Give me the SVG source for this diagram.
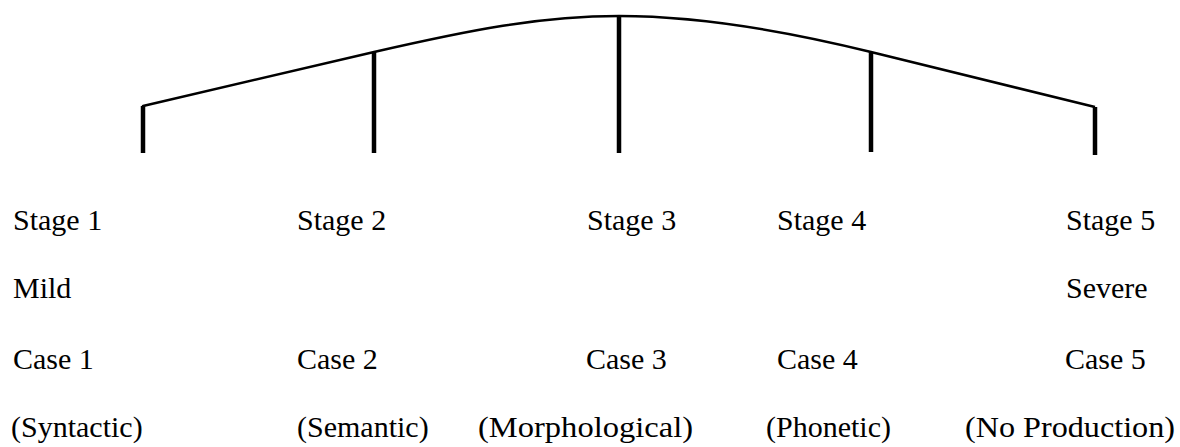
<svg xmlns="http://www.w3.org/2000/svg" width="1180" height="447" viewBox="0 0 1180 447">
<style>
text{font-family:"Liberation Serif","Times New Roman",serif;font-size:30px;fill:#000}
.curve{fill:none;stroke:#000;stroke-width:2.5;stroke-linejoin:round}
.tick{stroke:#000;stroke-width:4.5;stroke-linecap:butt}
</style>
<rect width="1180" height="447" fill="#fff"/>
<g id="connectors">
<path class="curve" d="M143,109 L143,106 L374,52 C470,30 540,16 619,16 C700,16 790,32 871,52 L1095,107"/>
<line class="tick" x1="143" y1="106" x2="143" y2="153"/>
<line class="tick" x1="374" y1="52" x2="374" y2="153"/>
<line class="tick" x1="619" y1="16" x2="619" y2="153"/>
<line class="tick" x1="871" y1="52" x2="871" y2="152"/>
<line class="tick" x1="1095" y1="107" x2="1095" y2="155"/>
</g>
<g id="stage1">
<text x="13" y="230">Stage 1</text>
<text x="13" y="298">Mild</text>
<text x="13" y="369">Case 1</text>
<text x="11" y="437">(Syntactic)</text>
</g>
<g id="stage2">
<text x="297" y="230">Stage 2</text>
<text x="297" y="369">Case 2</text>
<text x="297" y="437">(Semantic)</text>
</g>
<g id="stage3">
<text x="587" y="230">Stage 3</text>
<text x="586" y="369">Case 3</text>
<text x="478" y="437" textLength="215" lengthAdjust="spacingAndGlyphs">(Morphological)</text>
</g>
<g id="stage4">
<text x="777" y="230">Stage 4</text>
<text x="777" y="369">Case 4</text>
<text x="766" y="437">(Phonetic)</text>
</g>
<g id="stage5">
<text x="1066" y="230">Stage 5</text>
<text x="1066" y="298">Severe</text>
<text x="1065" y="369">Case 5</text>
<text x="965" y="437" textLength="210" lengthAdjust="spacingAndGlyphs">(No Production)</text>
</g>
</svg>
